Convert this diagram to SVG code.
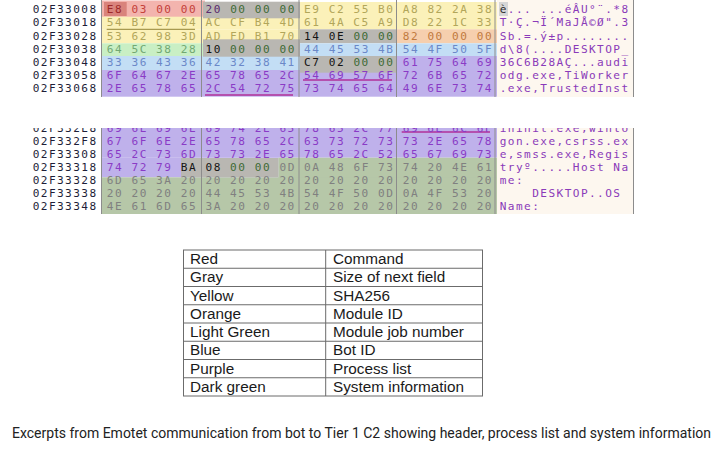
<svg xmlns="http://www.w3.org/2000/svg" width="728" height="453" viewBox="0 0 728 453">
<style>
.hx{font-family:"DejaVu Sans Mono","Liberation Mono",monospace;font-size:11.1px;letter-spacing:1.54px}
.ad{font-family:"DejaVu Sans Mono","Liberation Mono",monospace;font-size:11.1px;letter-spacing:1.42px;fill:#1e1e38}
.as{font-family:"DejaVu Sans Mono","Liberation Mono",monospace;font-size:11.1px;letter-spacing:1.44px;fill:#8a3ab9}
.r{fill:#c4413a}.rd{fill:#9e2a2a}.gp{fill:#5b2c6f}.gg{fill:#3f6b36}.k{fill:#151515}
.y{fill:#b2a65a}.o{fill:#c17a3e}.lg{fill:#72a872}.b{fill:#6b88c8}.p{fill:#8a3bc6}.dg{fill:#808080}
.vl{stroke:#8c8c8c;stroke-width:1}
.tb{fill:none;stroke:#6b6b6b;stroke-width:1}
.tt{font-family:"Liberation Sans",Arial,sans-serif;font-size:15.3px;fill:#1a1a1a}
.cap{font-family:Roboto,"Noto Sans",sans-serif;font-size:14px;fill:#222}
</style>
<defs>
<clipPath id="clip2"><rect x="0" y="128" width="728" height="90"/></clipPath>
</defs>
<rect width="728" height="453" fill="#ffffff"/>

<g id="hex-top">
<rect x="497" y="0" width="136" height="97" fill="#fdf7ef"/>
<rect x="101.7" y="2" width="395.3" height="27.3" fill="#fbf1b9"/>
<rect x="101.7" y="29.3" width="198.3" height="14" fill="#fbf1b9"/>
<rect x="101.7" y="0.5" width="103.3" height="16.2" fill="#f3b4ae"/>
<rect x="104" y="2" width="22.7" height="14" fill="#d9837c"/>
<rect x="203" y="1.7" width="97" height="16.6" fill="#b9b7b2"/>
<rect x="300" y="29.3" width="97" height="14" fill="#b9b7b2"/>
<rect x="397" y="29.3" width="100" height="14" fill="#f6cfae"/>
<rect x="101.7" y="43.3" width="101.3" height="12.7" fill="#c9efc4"/>
<rect x="300" y="43.3" width="197" height="13.4" fill="#c3def5"/>
<rect x="101.7" y="56" width="198.3" height="14" fill="#c3def5"/>
<rect x="203" y="39.3" width="97" height="17.4" fill="#b9b7b2"/>
<rect x="397" y="56" width="100" height="14" fill="#bfb1eb"/>
<rect x="101.7" y="70" width="395.3" height="26.7" fill="#bfb1eb"/>
<rect x="300" y="56" width="97" height="16.7" fill="#b9b7b2"/>
<rect x="499" y="2" width="9" height="14" fill="#d6d6d6"/>
<line class="vl" x1="101.5" y1="0" x2="101.5" y2="97"/>
<line class="vl" x1="201.5" y1="0" x2="201.5" y2="97"/>
<line class="vl" x1="299" y1="0" x2="299" y2="97"/>
<line class="vl" x1="396.5" y1="0" x2="396.5" y2="97"/>
<line class="vl" x1="495" y1="0" x2="495" y2="97"/>
<line class="vl" x1="633.5" y1="0" x2="633.5" y2="97"/>
<line x1="106.7" y1="29.3" x2="195" y2="29.3" stroke="#a89a50" stroke-width="1.3"/>
<line x1="303" y1="80" x2="392" y2="80" stroke="#b0309a" stroke-width="1.3"/>
<line x1="205" y1="95" x2="293" y2="95" stroke="#b0309a" stroke-width="1.3"/>
<text class="ad"><tspan x="32.7" y="13.3">02F33008</tspan><tspan x="32.7" y="26.4">02F33018</tspan><tspan x="32.7" y="39.6">02F33028</tspan><tspan x="32.7" y="52.7">02F33038</tspan><tspan x="32.7" y="65.9">02F33048</tspan><tspan x="32.7" y="79">02F33058</tspan><tspan x="32.7" y="92.2">02F33068</tspan></text>
<text class="hx" xml:space="preserve"><tspan x="106.8" y="13.3"><tspan class="rd">E8</tspan><tspan class="r"> 03 00 00 </tspan><tspan class="gp">20</tspan><tspan class="gg"> 00 00 00 </tspan><tspan class="y">E9 C2 55 B0 A8 82 2A 38</tspan></tspan><tspan x="106.8" y="26.4" class="y">54 B7 C7 04 AC CF B4 4D 61 4A C5 A9 D8 22 1C 33</tspan><tspan x="106.8" y="39.6"><tspan class="y">53 62 98 3D AD FD B1 70 </tspan><tspan class="k">14 0E </tspan><tspan class="gg">00 00 </tspan><tspan class="o">82 00 00 00</tspan></tspan><tspan x="106.8" y="52.7"><tspan class="lg">64 5C 38 28 </tspan><tspan class="k">10 </tspan><tspan class="gg">00 00 00 </tspan><tspan class="b">44 45 53 4B 54 4F 50 5F</tspan></tspan><tspan x="106.8" y="65.9"><tspan class="b">33 36 43 36 42 32 38 41 </tspan><tspan class="k">C7 02 </tspan><tspan class="gg">00 00 </tspan><tspan class="p">61 75 64 69</tspan></tspan><tspan x="106.8" y="79" class="p">6F 64 67 2E 65 78 65 2C 54 69 57 6F 72 6B 65 72</tspan><tspan x="106.8" y="92.2" class="p">2E 65 78 65 2C 54 72 75 73 74 65 64 49 6E 73 74</tspan></text>
<text class="as" xml:space="preserve"><tspan x="499.7" y="13.3"><tspan fill="#2a2a2a">è</tspan>... ...éÂU°¨.*8</tspan><tspan x="499.7" y="26.4">T·Ç.¬Ï´MaJÅ©Ø".3</tspan><tspan x="499.7" y="39.6">Sb.=.ý±p........</tspan><tspan x="499.7" y="52.7">d\8(....DESKTOP_</tspan><tspan x="499.7" y="65.9">36C6B28AÇ...audi</tspan><tspan x="499.7" y="79">odg.exe,TiWorker</tspan><tspan x="499.7" y="92.2">.exe,TrustedInst</tspan></text>
</g>

<g id="hex-bottom" clip-path="url(#clip2)">
<rect x="497" y="128" width="136" height="86" fill="#fdf7ef"/>
<rect x="101.7" y="128" width="395.3" height="29.7" fill="#bfb1eb"/>
<rect x="101.7" y="157.5" width="176.6" height="19.8" fill="#bfb1eb"/>
<rect x="278.3" y="157.7" width="218.7" height="56.3" fill="#b6c7a8"/>
<rect x="101.7" y="177.3" width="395.3" height="36.7" fill="#b6c7a8"/>
<rect x="181" y="158" width="97.3" height="19.3" fill="#b9b7b2"/>
<line class="vl" x1="101.5" y1="128" x2="101.5" y2="214"/>
<line class="vl" x1="201.5" y1="128" x2="201.5" y2="214"/>
<line class="vl" x1="299" y1="128" x2="299" y2="214"/>
<line class="vl" x1="396.5" y1="128" x2="396.5" y2="214"/>
<line class="vl" x1="495" y1="128" x2="495" y2="214"/>
<line class="vl" x1="633.5" y1="128" x2="633.5" y2="214"/>
<line x1="401.7" y1="132" x2="490" y2="132" stroke="#b0309a" stroke-width="1.3"/>
<text class="ad"><tspan x="32.7" y="131.7">02F332E8</tspan><tspan x="32.7" y="144.7">02F332F8</tspan><tspan x="32.7" y="157.7">02F33308</tspan><tspan x="32.7" y="170.7">02F33318</tspan><tspan x="32.7" y="183.7">02F33328</tspan><tspan x="32.7" y="196.7">02F33338</tspan><tspan x="32.7" y="209.7">02F33348</tspan></text>
<text class="hx" xml:space="preserve"><tspan x="106.8" y="131.7" class="p">69 6E 69 6E 69 74 2E 65 78 65 2C 77 69 6E 6C 6F</tspan><tspan x="106.8" y="144.7" class="p">67 6F 6E 2E 65 78 65 2C 63 73 72 73 73 2E 65 78</tspan><tspan x="106.8" y="157.7" class="p">65 2C 73 6D 73 73 2E 65 78 65 2C 52 65 67 69 73</tspan><tspan x="106.8" y="170.7"><tspan class="p">74 72 79 </tspan><tspan class="k">BA 08 </tspan><tspan class="gg">00 00 </tspan><tspan class="dg">0D 0A 48 6F 73 74 20 4E 61</tspan></tspan><tspan x="106.8" y="183.7" class="dg">6D 65 3A 20 20 20 20 20 20 20 20 20 20 20 20 20</tspan><tspan x="106.8" y="196.7" class="dg">20 20 20 20 44 45 53 4B 54 4F 50 0D 0A 4F 53 20</tspan><tspan x="106.8" y="209.7" class="dg">4E 61 6D 65 3A 20 20 20 20 20 20 20 20 20 20 20</tspan></text>
<text class="as" xml:space="preserve"><tspan x="499.7" y="131.7">ininit.exe,winlo</tspan><tspan x="499.7" y="144.7">gon.exe,csrss.ex</tspan><tspan x="499.7" y="157.7">e,smss.exe,Regis</tspan><tspan x="499.7" y="170.7">tryº.....Host Na</tspan><tspan x="499.7" y="183.7">me:</tspan><tspan x="499.7" y="196.7">    DESKTOP..OS</tspan><tspan x="499.7" y="209.7">Name:</tspan></text>
</g>

<g id="legend-table">
<rect class="tb" x="183.5" y="250" width="299" height="146"/>
<line class="tb" x1="325.7" y1="250" x2="325.7" y2="396"/>
<line class="tb" x1="183.5" y1="268.25" x2="482.5" y2="268.25"/>
<line class="tb" x1="183.5" y1="286.5" x2="482.5" y2="286.5"/>
<line class="tb" x1="183.5" y1="304.75" x2="482.5" y2="304.75"/>
<line class="tb" x1="183.5" y1="323" x2="482.5" y2="323"/>
<line class="tb" x1="183.5" y1="341.25" x2="482.5" y2="341.25"/>
<line class="tb" x1="183.5" y1="359.5" x2="482.5" y2="359.5"/>
<line class="tb" x1="183.5" y1="377.75" x2="482.5" y2="377.75"/>
<text class="tt" x="190" y="264">Red</text><text class="tt" x="333" y="264">Command</text>
<text class="tt" x="190" y="282.25">Gray</text><text class="tt" x="333" y="282.25">Size of next field</text>
<text class="tt" x="190" y="300.5">Yellow</text><text class="tt" x="333" y="300.5">SHA256</text>
<text class="tt" x="190" y="318.75">Orange</text><text class="tt" x="333" y="318.75">Module ID</text>
<text class="tt" x="190" y="337">Light Green</text><text class="tt" x="333" y="337">Module job number</text>
<text class="tt" x="190" y="355.25">Blue</text><text class="tt" x="333" y="355.25">Bot ID</text>
<text class="tt" x="190" y="373.5">Purple</text><text class="tt" x="333" y="373.5">Process list</text>
<text class="tt" x="190" y="391.75">Dark green</text><text class="tt" x="333" y="391.75">System information</text>
</g>

<g id="caption">
<text class="cap" x="12" y="438" textLength="699" lengthAdjust="spacing">Excerpts from Emotet communication from bot to Tier 1 C2 showing header, process list and system information</text>
</g>
</svg>
